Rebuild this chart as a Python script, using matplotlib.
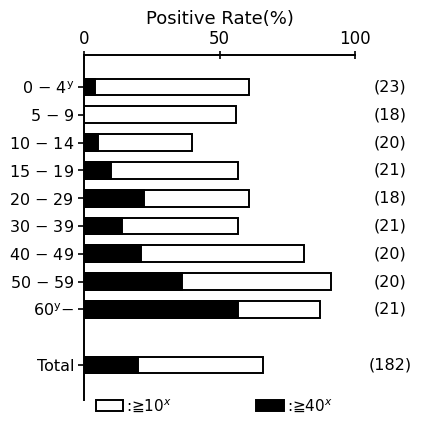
import numpy as np
import matplotlib
matplotlib.use('Agg')
import matplotlib.pyplot as plt
from matplotlib.patches import Patch

# age groups, positive rate (%) for >=10x (total bar) and >=40x (black part)
groups = [r'0 $-$ 4$^{\mathrm{y}}$', '5 $-$ 9', '10 $-$ 14', '15 $-$ 19', '20 $-$ 29',
          '30 $-$ 39', '40 $-$ 49', '50 $-$ 59', r'60$^{\mathrm{y}}$$-$', 'Total']
rate_10x = [61, 56, 40, 57, 61, 57, 81, 91, 87, 66]
rate_40x = [4, 0, 5, 10, 22, 14, 21, 36, 57, 20]
counts = ['(23)', '(18)', '(20)', '(21)', '(18)', '(21)', '(20)', '(20)', '(21)', '(182)']
ypos = [0, 1, 2, 3, 4, 5, 6, 7, 8, 10]

plt.rcParams['font.family'] = 'DejaVu Sans'
fig = plt.figure(figsize=(4.28, 4.41), dpi=100)
ax = fig.add_axes([84 / 428, 1 - 400 / 441, (355 - 84) / 428, (400 - 55) / 441])

h = 0.6
ax.barh(ypos, rate_10x, height=h, color='white', edgecolor='black', linewidth=1.4)
ax.barh(ypos, rate_40x, height=h, color='black', edgecolor='black', linewidth=1.4)

ax.set_xlim(0, 100)
ax.set_ylim(11.26, -1.15)
ax.xaxis.tick_top()
ax.set_xticks([0, 50, 100])
ax.tick_params(axis='x', direction='inout', length=6, width=1.2, labelsize=12, pad=2)
ax.set_yticks(ypos)
ax.set_yticklabels(groups)
ax.tick_params(axis='y', direction='out', length=4, width=1.2, labelsize=11.5, pad=3)
for s in ['right', 'bottom']:
    ax.spines[s].set_visible(False)
for s in ['top', 'left']:
    ax.spines[s].set_linewidth(1.4)

ax.set_title('Positive Rate(%)', fontsize=13, pad=22)

for y, c in zip(ypos, counts):
    ax.text(113, y, c, ha='center', va='center', fontsize=11.5, clip_on=False)

handles = [Patch(facecolor='white', edgecolor='black', linewidth=1.4),
           Patch(facecolor='black', edgecolor='black', linewidth=1.4)]
fig.legend(handles, [':≧10$^{x}$', ':≧40$^{x}$'], loc='lower center',
           bbox_to_anchor=(0.5, 0.03), ncol=2, frameon=False, fontsize=11,
           handlelength=1.8, handletextpad=0.2, columnspacing=5.5)

fig.savefig('out.png', dpi=100)
